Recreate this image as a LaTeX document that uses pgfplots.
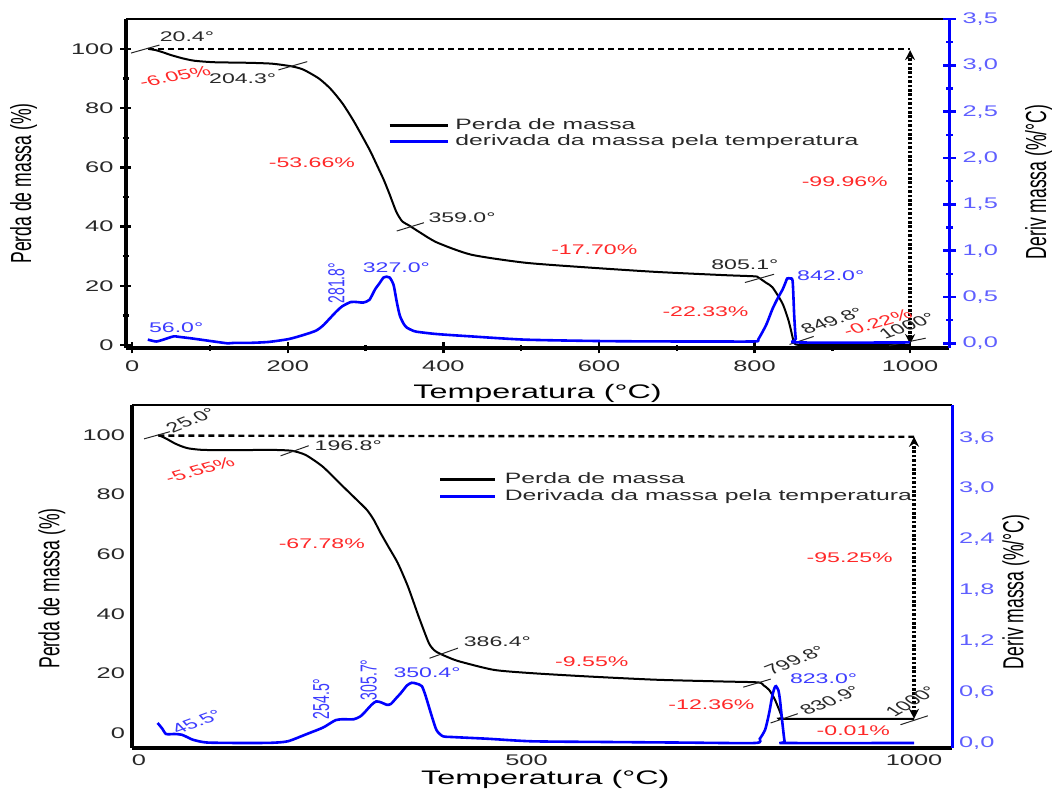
\documentclass[border=0pt]{standalone}
\usepackage{fontspec}
\setmainfont{Liberation Sans}
\newfontfamily\wide[FakeStretch=1.65]{Liberation Sans}
\newfontfamily\narrow[FakeStretch=0.606]{Liberation Sans}
\usepackage{pgfplots}
\pgfplotsset{compat=1.18}
\usetikzlibrary{arrows.meta}
\definecolor{tblue}{RGB}{0,0,255}
\definecolor{ablue}{RGB}{60,60,255}
\definecolor{lblue}{RGB}{95,95,255}
\definecolor{ared}{RGB}{255,40,40}
\definecolor{tgray}{RGB}{40,40,40}
\tikzset{ann/.style={font=\fontsize{7}{8}\selectfont, xscale=1.65, inner sep=0pt, anchor=center}}
\pgfplotsset{
  base/.style={scale only axis, clip=false,
    /pgf/number format/assume math mode=true,
    /pgf/number format/1000 sep={},
    tick align=outside,
    tick label style={font=\wide\fontsize{7.7}{8}\selectfont},
  },
  tga/.style={black, line width=1pt, smooth, tension=0.4},
  dtg/.style={tblue, line width=1.3pt, smooth, tension=0.4},
  tang/.style={forget plot, black!85, line width=0.5pt},
  hdash/.style={forget plot, black, line width=1.2pt, dash pattern=on 3pt off 2pt},
  varrow/.style={forget plot, black, line width=2pt, dash pattern=on 1.3pt off 0.9pt, {Stealth[length=5pt,width=5pt]}-{Stealth[length=5pt,width=5pt]}},
}
\begin{document}
\begin{tikzpicture}
\useasboundingbox (0,0) rectangle (527pt,395.5pt);
% ================= TOP PANEL =================
\begin{axis}[base, at={(63pt,221.5pt)}, anchor=south west, width=411.5pt, height=164.5pt,
  xmin=-8, xmax=1050, ymin=-1, ymax=110.1,
  axis x line=bottom, axis y line=left,
  x axis line style={-, line width=1.6pt}, y axis line style={-, line width=1.6pt},
  xtick={0,200,400,600,800,1000}, minor x tick num=1,
  ytick={0,20,40,60,80,100}, minor y tick num=1,
  major tick length=5.5pt, minor tick length=3pt,
  every tick/.style={black, line width=1.2pt},
  tick label style={text=tgray},
  xlabel={Temperatura (°C)},
  xlabel style={font=\wide\fontsize{9.8}{10}\selectfont, at={(axis description cs:0.5,-0.138)}, anchor=center},
  ylabel={Perda de massa (\%)},
  ylabel style={font=\narrow\fontsize{14.5}{14.5}\selectfont, at={(axis description cs:-0.1245,0.5)}, anchor=center},
  legend style={at={(axis cs:329,76.7)}, anchor=north west, draw=none, fill=none, inner sep=0pt, outer sep=0pt,
    font=\wide\fontsize{7.5}{8}\selectfont, text=tgray, row sep=0pt,
    nodes={inner sep=0.4pt, text height=5.4pt, text depth=1.6pt}},
  legend cell align=left,
  legend image code/.code={\draw[#1, line width=1.35pt] (0pt,0pt) -- (29pt,0pt); \path (32pt,0pt);},
]
\draw[line width=0.6pt] (rel axis cs:0,1) -- (rel axis cs:1,1);
\addplot[tga] coordinates {(20.4,100) (30,99.6) (40,98.8) (50,97.9) (65,96.8) (80,96) (105,95.5) (150,95.3) (180,95) (205,94.1) (220,93) (240,90) (255,86.5) (270,81.7) (285,75.5) (305,66) (315,60.5) (323,56) (330,51.5) (335,48) (340,44.7) (347,41.8) (357,40.2) (370,38) (392,34.6) (436,30.5) (505,27.8) (585,26.2) (673,24.7) (761,23.6) (800,23.2) (805,22.8) (815,21) (823,19.5) (836,14) (844,8) (850,1.5) (853,0.2) (870,0) (1000,0)};
\addlegendentry{Perda de massa}
\addlegendimage{tblue}
\addlegendentry{derivada da massa pela temperatura}
\addplot[hdash] coordinates {(20.4,100) (1000,100)};
\addplot[varrow] coordinates {(1000,0.3) (1000,99.6)};
\addplot[tang] coordinates {(-1.5,98.6) (35,101.3)};
\addplot[tang] coordinates {(188,92.9) (225,95.7)};
\addplot[tang] coordinates {(340,38.5) (375,41.3)};
\addplot[tang] coordinates {(787.6,21.1) (825.1,23.9)};
\addplot[tang] coordinates {(845,0.2) (876,2.9)};
\addplot[tang] coordinates {(973,-0.2) (1020,2.3)};
\node[ann, text=tgray] at (axis cs:70.4,104.2) {20.4°};
\node[ann, text=ared, rotate=17] at (axis cs:55,90.7) {-6.05\%};
\node[ann, text=tgray] at (axis cs:142,89.9) {204.3°};
\node[ann, text=ared] at (axis cs:231,61.5) {-53.66\%};
\node[ann, text=tgray] at (axis cs:424,43) {359.0°};
\node[ann, text=ablue] at (axis cs:56.5,5.9) {56.0°};
\node[ann, text=ablue, rotate=90] at (axis cs:262.6,20.9) {281.8°};
\node[ann, text=ablue] at (axis cs:339.6,26.2) {327.0°};
\node[ann, text=ared] at (axis cs:594,32.3) {-17.70\%};
\node[ann, text=tgray] at (axis cs:787.6,27.3) {805.1°};
\node[ann, text=ablue] at (axis cs:898,23.3) {842.0°};
\node[ann, text=ared] at (axis cs:737,11.3) {-22.33\%};
\node[ann, text=tgray, rotate=28] at (axis cs:900,8.2) {849.8°};
\node[ann, text=ared, rotate=25] at (axis cs:958,7.6) {-0.22\%};
\node[ann, text=tgray, rotate=30] at (axis cs:996.5,6.5) {1000°};
\node[ann, text=ared] at (axis cs:916,55) {-99.96\%};
\end{axis}
\begin{axis}[base, at={(63pt,221.5pt)}, anchor=south west, width=411.5pt, height=164.5pt,
  xmin=-8, xmax=1050, ymin=-0.05, ymax=3.5,
  axis x line=none, axis y line=right,
  y axis line style={-, tblue, line width=1.5pt},
  every tick/.style={tblue, line width=1.2pt},
  major tick length=6.5pt, minor tick length=3.5pt,
  ytick={0,0.5,1,1.5,2,2.5,3,3.5}, minor y tick num=1,
  yticklabel style={text=lblue, /pgf/number format/.cd, use comma, fixed, fixed zerofill, precision=1},
  ylabel={Deriv massa (\%/°C)},
  ylabel style={font=\narrow\fontsize{14.5}{14.5}\selectfont, at={(axis description cs:1.109,0.505)}, anchor=center},
]
\addplot[dtg] coordinates {(20,0.04) (25,0.03) (31,0.02) (40,0.04) (53,0.075) (60,0.07) (75,0.055) (88,0.04) (105,0.02) (123,0.0) (131,0.005) (150,0.005) (175,0.015) (201,0.046) (220,0.09) (236,0.136) (245,0.19) (253,0.26) (262,0.34) (270,0.40) (281,0.446) (290,0.445) (297,0.44) (305,0.47) (312,0.58) (318,0.65) (323,0.71) (327,0.72) (331,0.71) (336,0.63) (340,0.45) (344,0.30) (349,0.21) (353,0.17) (360,0.14) (366,0.125) (392,0.1) (436,0.075) (505,0.04) (600,0.025) (673,0.021) (750,0.02) (801,0.021) (805,0.046) (815,0.2) (823,0.37) (830,0.49) (836,0.58) (840,0.66) (842,0.70) (846,0.70) (849,0.67) (851,0.3) (853,0.05) (856,0.01) (1000,0.01)};
\end{axis}
% ================= BOTTOM PANEL =================
\begin{axis}[base, at={(66pt,21.5pt)}, anchor=south west, width=410pt, height=171.5pt,
  xmin=-9, xmax=1049, ymin=-5, ymax=110.06,
  axis x line=bottom, axis y line=left,
  x axis line style={-, line width=1.6pt}, y axis line style={-, line width=1.6pt},
  xtick={0,500,1000}, ytick={0,20,40,60,80,100},
  major tick length=0pt, minor tick length=0pt, tick style={draw=none},
  tick label style={text=tgray},
  xlabel={Temperatura (°C)},
  xlabel style={font=\wide\fontsize{9.8}{10}\selectfont, at={(axis description cs:0.504,-0.093)}, anchor=center},
  ylabel={Perda de massa (\%)},
  ylabel style={font=\narrow\fontsize{14.5}{14.5}\selectfont, at={(axis description cs:-0.0976,0.465)}, anchor=center},
  legend style={at={(axis cs:387.2,88)}, anchor=north west, draw=none, fill=none, inner sep=0pt, outer sep=0pt,
    font=\wide\fontsize{7.5}{8}\selectfont, text=tgray, row sep=0pt,
    nodes={inner sep=0.4pt, text height=5.8pt, text depth=2pt}},
  legend cell align=left,
  legend image code/.code={\draw[#1, line width=1.35pt] (0pt,0pt) -- (27.4pt,0pt); \path (31.3pt,0pt);},
]
\draw[line width=0.9pt] (rel axis cs:0,1) -- (rel axis cs:1,1);
\addplot[tga] coordinates {(25,100) (35,98.8) (46,97.2) (55,96.2) (64,95.5) (82,95) (120,94.9) (170,95) (197,94.7) (215,93.3) (237,89.4) (259,83.8) (280,78.5) (294,74.9) (303,71.5) (312,67) (323,62) (334,57) (347,49.2) (361,39) (374,30.2) (381,27.8) (387,26.8) (400,25.3) (414,24) (458,21.2) (507,20.1) (579,19) (667,17.9) (755,17.3) (799,17) (806,16) (813,14.5) (820,11.5) (826,7.8) (830,5.2) (834,4.75) (1000,4.75)};
\addlegendentry{Perda de massa}
\addlegendimage{tblue}
\addlegendentry{Derivada da massa pela temperatura}
\addplot[hdash] coordinates {(25,99.8) (1000,99.4)};
\addplot[varrow] coordinates {(1000,4.8) (1000,99.4)};
\addplot[tang] coordinates {(6.6,98.7) (39.8,101.1)};
\addplot[tang] coordinates {(182.7,93) (219,96.4)};
\addplot[tang] coordinates {(374.8,25.1) (411.5,28.5)};
\addplot[tang] coordinates {(779.7,15.4) (815,18.1)};
\addplot[tang] coordinates {(815,3.4) (850,6.5)};
\addplot[tang] coordinates {(982.5,2.8) (1017.8,5.8)};
\node[ann, text=tgray, rotate=33] at (axis cs:67.3,105) {25.0°};
\node[ann, text=tgray] at (axis cs:270,96.3) {196.8°};
\node[ann, text=ared, rotate=24] at (axis cs:78.3,88.3) {-5.55\%};
\node[ann, text=ared] at (axis cs:235.9,63.5) {-67.78\%};
\node[ann, text=tgray] at (axis cs:462.4,30.7) {386.4°};
\node[ann, text=ablue, rotate=90] at (axis cs:235,11.5) {254.5°};
\node[ann, text=ablue, rotate=90] at (axis cs:296.5,17.9) {305.7°};
\node[ann, text=ablue] at (axis cs:371.7,20.1) {350.4°};
\node[ann, text=ablue, rotate=31] at (axis cs:74.8,3.9) {45.5°};
\node[ann, text=ared] at (axis cs:584.3,23.8) {-9.55\%};
\node[ann, text=tgray, rotate=33] at (axis cs:846.7,24.4) {799.8°};
\node[ann, text=ablue] at (axis cs:883.3,18.1) {823.0°};
\node[ann, text=ared] at (axis cs:738.7,9.5) {-12.36\%};
\node[ann, text=tgray, rotate=34] at (axis cs:892,10.9) {830.9°};
\node[ann, text=ared] at (axis cs:921.7,0.9) {-0.01\%};
\node[ann, text=tgray, rotate=43] at (axis cs:996.6,10.6) {1000°};
\node[ann, text=ared] at (axis cs:917,58.7) {-95.25\%};
\end{axis}
\begin{axis}[base, at={(66pt,21.5pt)}, anchor=south west, width=410pt, height=171.5pt,
  xmin=-9, xmax=1049, ymin=-0.059, ymax=3.985,
  axis x line=none, axis y line=right,
  y axis line style={-, tblue, line width=1.5pt},
  major tick length=0pt, minor tick length=0pt, tick style={draw=none},
  ytick={0,0.6,1.2,1.8,2.4,3.0,3.6},
  yticklabel style={text=lblue, /pgf/number format/.cd, use comma, fixed, fixed zerofill, precision=1},
  ylabel={Deriv massa (\%/°C)},
  ylabel style={font=\narrow\fontsize{14.5}{14.5}\selectfont, at={(axis description cs:1.078,0.455)}, anchor=center},
]
\addplot[dtg] coordinates {(24,0.236) (30,0.17) (35,0.106) (46,0.106) (55,0.098) (62,0.07) (69,0.04) (80,0.015) (91,0.004) (130,0.0) (170,0.002) (192,0.02) (215,0.1) (237,0.18) (248,0.24) (254,0.27) (262,0.28) (277,0.28) (285,0.31) (290,0.35) (300,0.45) (306,0.49) (312,0.48) (320,0.45) (325,0.46) (332,0.53) (338,0.59) (346,0.68) (352,0.71) (358,0.70) (365,0.67) (370,0.55) (378,0.31) (384,0.15) (392,0.08) (405,0.07) (450,0.05) (507,0.02) (600,0.012) (700,0.005) (795,0.0) (801,0.05) (808,0.16) (813,0.35) (817,0.55) (820,0.65) (822,0.67) (825,0.62) (827,0.51) (830,0.25) (833,0.02) (836,0.0) (1000,0.0)};
\end{axis}
\end{tikzpicture}
\end{document}
